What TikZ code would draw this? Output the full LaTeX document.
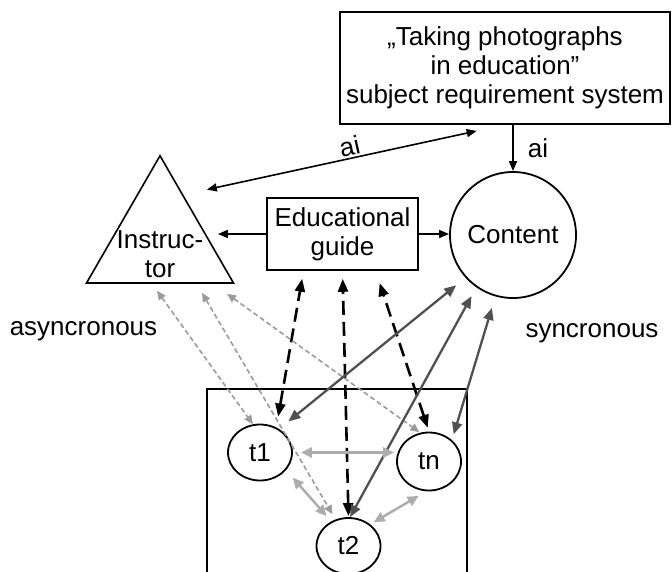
\documentclass[tikz,border=0pt]{standalone}
\usepackage{fontspec}
\setmainfont{Liberation Sans}
\usepackage{tikz}
\usetikzlibrary{arrows.meta}
\usetikzlibrary{shapes.geometric}

\definecolor{syncgray}{HTML}{505050}
\definecolor{peergray}{HTML}{ADADAD}
\definecolor{asyncgray}{HTML}{9C9C9C}

\begin{document}
\begin{tikzpicture}[x=1pt,y=-1pt,font=\fontsize{26}{29}\selectfont,
  box/.style={draw,line width=1.6pt,inner sep=0pt,align=center},
  stud/.style={draw,ellipse,line width=1.8pt,minimum width=64pt,minimum height=56pt,inner sep=0pt},
  thin/.style={line width=1.6pt,-{Triangle[length=10pt,width=8pt]}},
  guidelink/.style={line width=2.6pt,dash pattern=on 14pt off 7pt,{Triangle[length=13pt,width=10pt]}-{Triangle[length=13pt,width=10pt]}},
  synclink/.style={line width=2.3pt,draw=syncgray,{Triangle[length=12pt,width=10pt]}-{Triangle[length=12pt,width=10pt]}},
  peerlink/.style={line width=2.5pt,draw=peergray,{Triangle[length=11pt,width=10pt]}-{Triangle[length=11pt,width=10pt]}},
  asynclink/.style={line width=1.6pt,draw=asyncgray,dash pattern=on 5pt off 3pt,{Triangle[length=9pt,width=8pt]}-{Triangle[length=9pt,width=8pt]}}]
\useasboundingbox (0,0) rectangle (672,571);
\node[draw,line width=1.6pt,minimum width=260pt,minimum height=220pt,inner sep=0pt,anchor=north west] (GROUP) at (206,388) {};
\node[box,minimum width=330pt,minimum height=112pt] (REQ) at (505,68) {„Taking photographs\\in education”\\subject requirement system};
\node[draw,circle,line width=1.8pt,minimum size=126pt,inner sep=0pt] (CONT) at (513,235) {Content};
\node[box,minimum width=151pt,minimum height=72pt] (GUIDE) at (342.5,234) {Educational\\guide};
\node[draw,regular polygon,regular polygon sides=3,line width=1.6pt,minimum size=169.7pt,inner sep=0pt] (INSTR) at (160,240.6) {};
\node[align=center] (INSTRTXT) at ([yshift=-14pt]INSTR.center) {Instruc-\\tor};
\node[stud] (T1) at (260,452.5) {t1};
\node[stud,minimum height=58pt] (TN) at (429,461.5) {tn};
\node[stud] (T2) at (348.5,546) {t2};
\node[anchor=base] (ASYNC) at (83.5,335) {asyncronous};
\node[anchor=base] (SYNC) at (592,337) {syncronous};

% requirement system links
\draw[thin,{Triangle[length=10pt,width=8pt]}-{Triangle[length=10pt,width=8pt]},shorten <=24pt,shorten >=29pt] (INSTR.63.5) -- (REQ.south) node[pos=.525,above,sloped,inner sep=2pt]{ai};
\draw[thin] (CONT.north |- REQ.south) -- (CONT.north) node[midway,right,inner sep=2pt,xshift=12pt]{ai};
\draw[thin,shorten >=8pt] (GUIDE.west) -- (GUIDE.west -| INSTR.0);
\draw[thin] (GUIDE.east) -- (GUIDE.east -| CONT.west);

% students and guide
\draw[guidelink,shorten <=11pt,shorten >=8pt] (T1.57) -- ([xshift=-39pt]GUIDE.south);
\draw[guidelink,shorten <=1pt,shorten >=8pt] (T2.north) -- (GUIDE.south);
\draw[guidelink,shorten <=4pt,shorten >=13pt] (TN.north) -- ([xshift=33pt]GUIDE.south);

% asyncronous
\draw[asynclink,shorten <=8.6pt] ([xshift=-8pt]INSTR.270) -- (T1.104);
\draw[asynclink,shorten <=10.4pt,shorten >=6pt] ([xshift=36.7pt]INSTR.270) -- (T2.116);
\draw[asynclink,shorten <=17pt,shorten >=1pt] ([xshift=53.2pt]INSTR.270) -- (TN.107);

% syncronous
\draw[synclink,shorten <=12pt,shorten >=12pt] (T1.51) -- (CONT.222);
\draw[synclink,shorten >=10pt] (T2.87) -- (CONT.235);
\draw[synclink,shorten <=6pt,shorten >=12pt] (TN.43) -- (CONT.254);

% students
\draw[peerlink,shorten <=8pt,shorten >=2pt] (T1.east) -- (T1.east -| TN.west);
\draw[peerlink,shorten <=10pt,shorten >=7pt] (T1.326) -- (T2.125);
\draw[peerlink,shorten <=4pt,shorten >=9pt] (T2.45) -- (TN.265);
\end{tikzpicture}
\end{document}
